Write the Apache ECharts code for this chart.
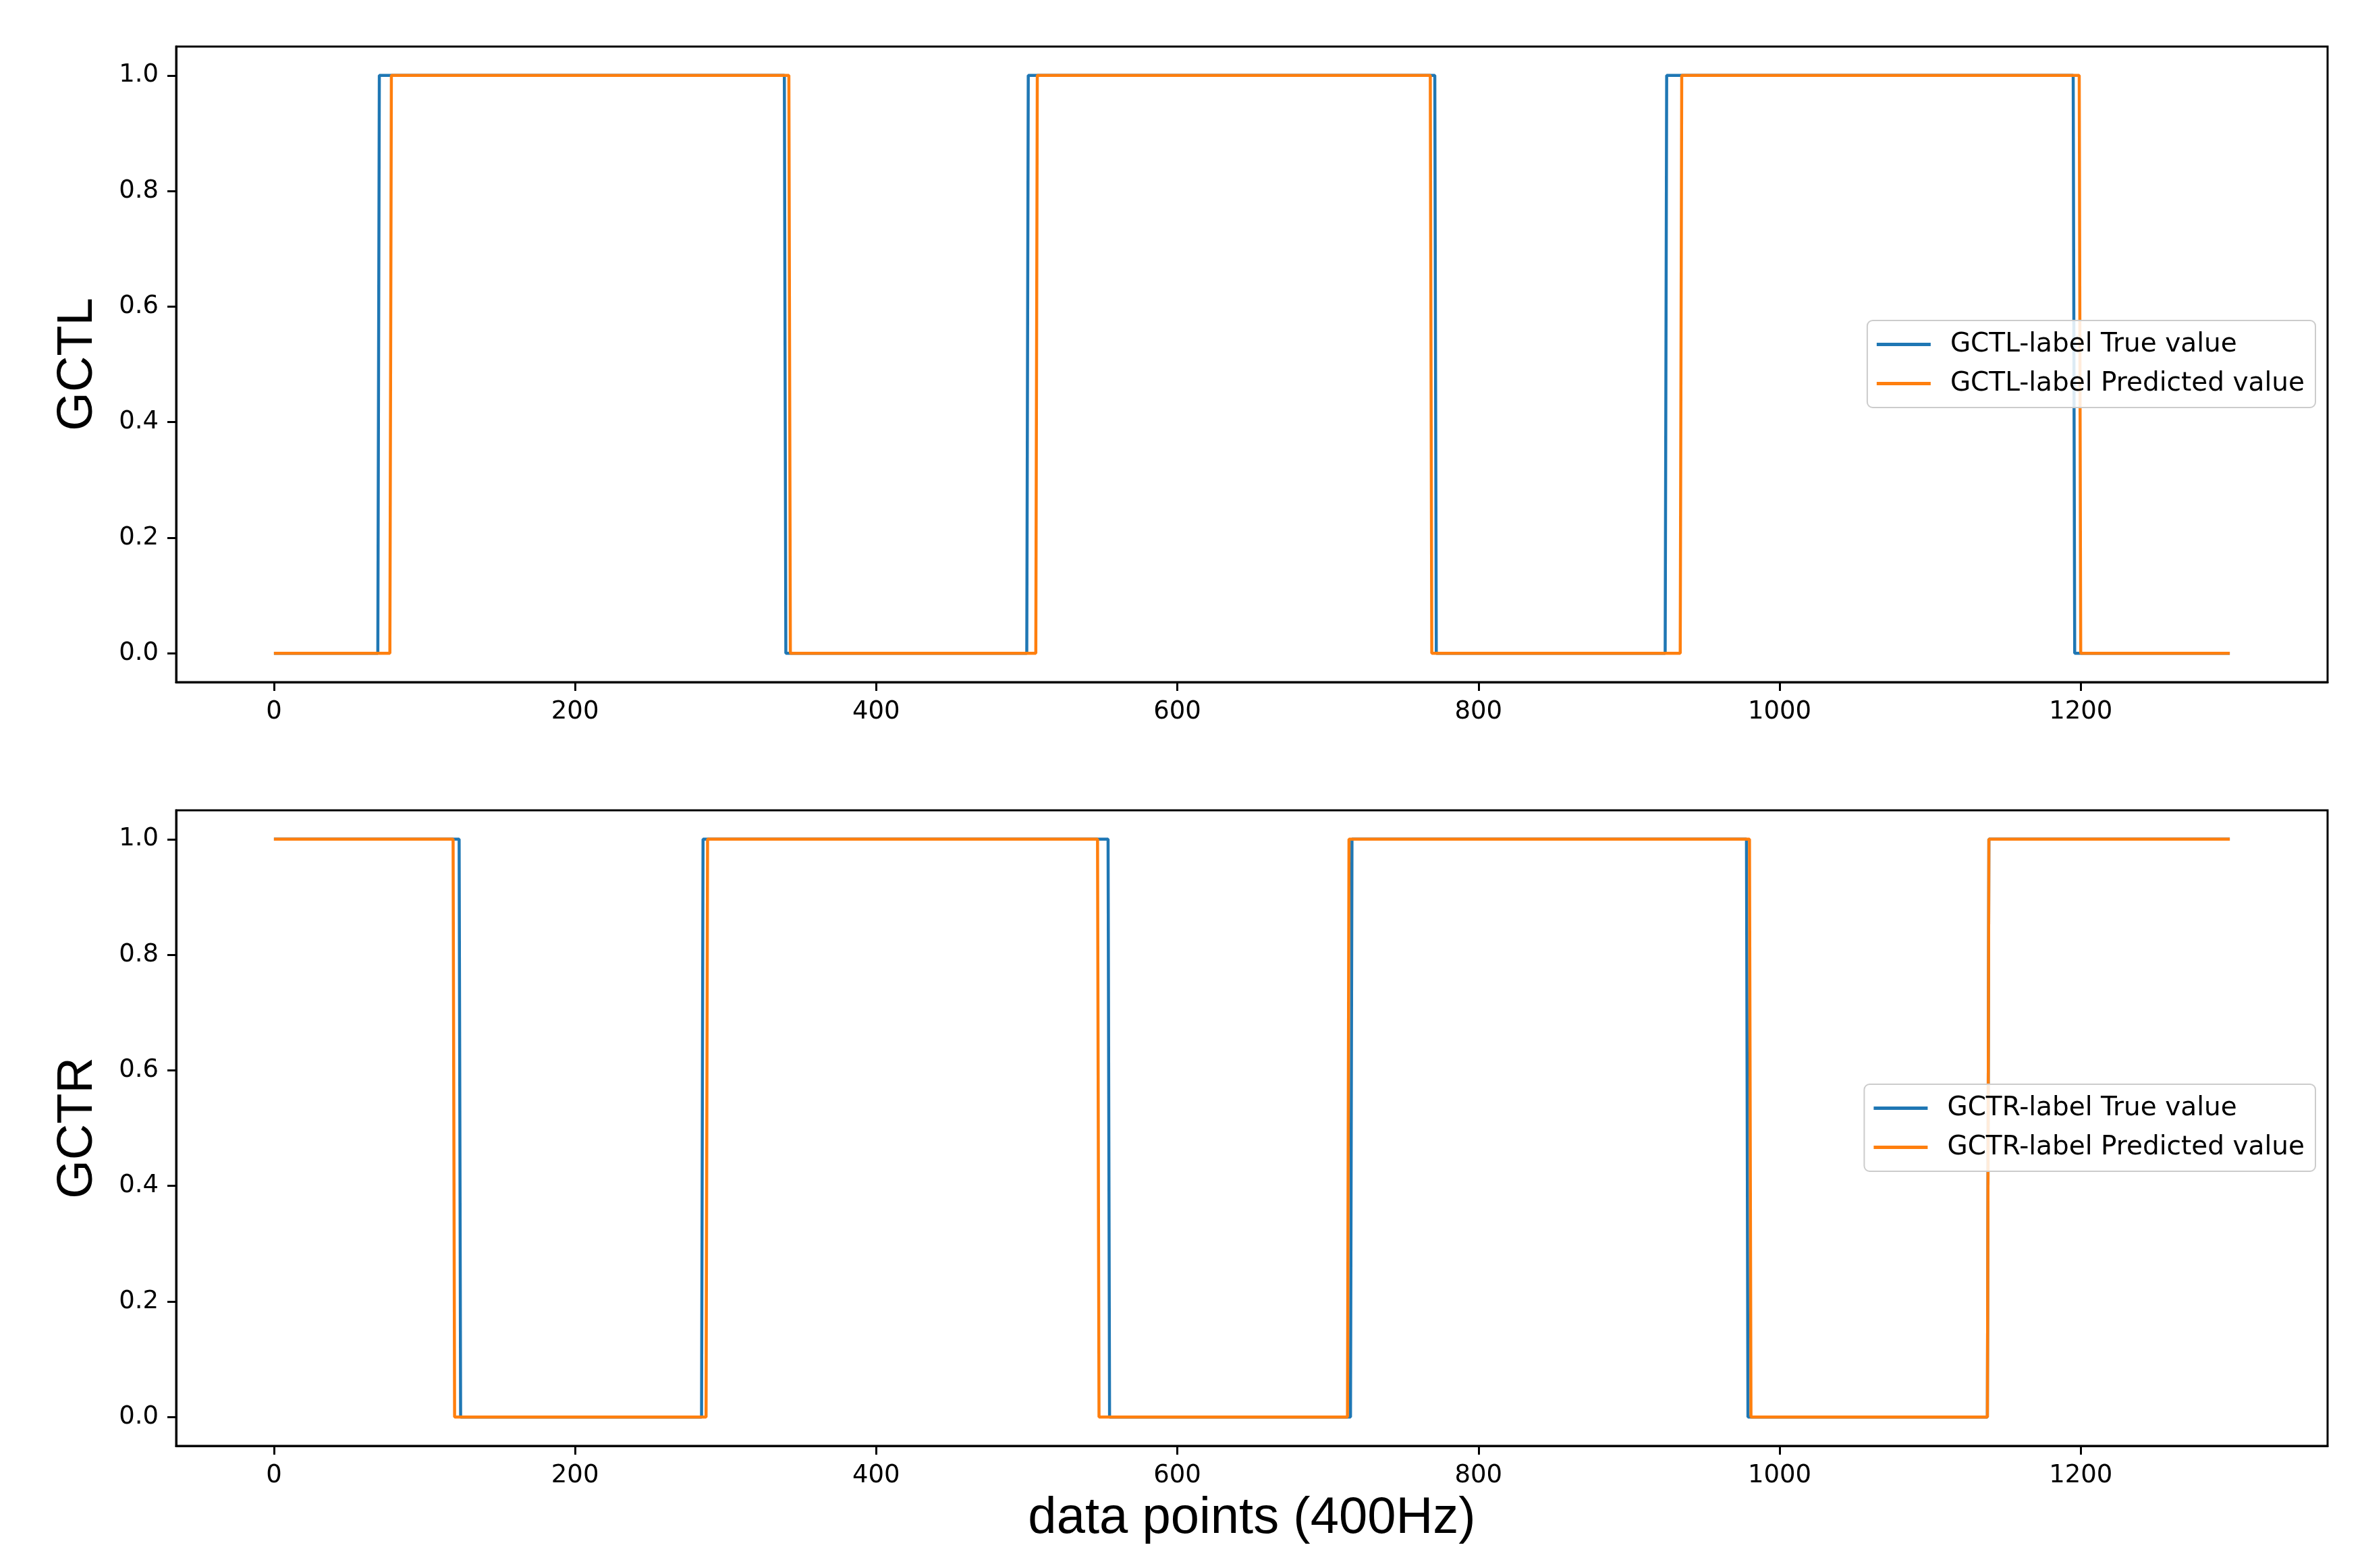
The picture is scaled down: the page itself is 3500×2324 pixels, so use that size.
<!DOCTYPE html>
<html>
<head>
<meta charset="utf-8">
<script src="https://cdn.jsdelivr.net/npm/echarts@6/dist/echarts.min.js"></script>
<style>html,body{margin:0;padding:0;background:#fff}#c{width:3500px;height:2324px}</style>
</head>
<body>
<div id="c"></div>
<script>
// Step-signal breakpoints: [data point index, value]
var gctlTrue = [[0,0],[69,0],[70,1],[339,1],[340,0],[500,0],[501,1],[771,1],[772,0],[924,0],[925,1],[1195,1],[1196,0],[1299,0]];
var gctlPred = [[0,0],[77,0],[78,1],[342,1],[343,0],[506,0],[507,1],[768,1],[769,0],[934,0],[935,1],[1199,1],[1200,0],[1299,0]];
var gctrTrue = [[0,1],[123,1],[124,0],[284,0],[285,1],[554,1],[555,0],[715,0],[716,1],[978,1],[979,0],[1138,0],[1139,1],[1299,1]];
var gctrPred = [[0,1],[119,1],[120,0],[287,0],[288,1],[547,1],[548,0],[713,0],[714,1],[980,1],[981,0],[1138,0],[1139,1],[1299,1]];
var xTicks = [0,200,400,600,800,1000,1200];
var yTicks = [0,0.2,0.4,0.6,0.8,1.0];
var names1 = ['GCTL-label True value','GCTL-label Predicted value'];
var names2 = ['GCTR-label True value','GCTR-label Predicted value'];

var BLUE = '#1f77b4', ORANGE = '#ff7f0e';
var tickFont = {fontSize:37, color:'#000', fontFamily:'DejaVu Sans'};

function xAx(idx, name){
  var a = {
    type:'value', gridIndex:idx, min:-64.95, max:1363.95,
    axisLine:{show:true, onZero:false, lineStyle:{color:'#000', width:3}},
    axisTick:{show:true, length:13, lineStyle:{color:'#000', width:3}, customValues:xTicks},
    axisLabel:Object.assign({margin:26, customValues:xTicks, formatter:function(v){return String(v);}}, tickFont),
    splitLine:{show:false}
  };
  if (name){
    a.name = name; a.nameLocation='middle'; a.nameGap=70;
    a.nameTextStyle={fontSize:76, color:'#000', fontFamily:'Liberation Sans'};
  }
  return a;
}
function yAx(idx, name){
  return {
    type:'value', gridIndex:idx, min:-0.05, max:1.05,
    name:name, nameLocation:'middle', nameRotate:90, nameGap:108,
    nameTextStyle:{fontSize:74, color:'#000', fontFamily:'Liberation Sans'},
    axisLine:{show:true, onZero:false, lineStyle:{color:'#000', width:3}},
    axisTick:{show:true, length:13, lineStyle:{color:'#000', width:3}, customValues:yTicks},
    axisLabel:Object.assign({margin:26, customValues:yTicks, formatter:function(v){return v.toFixed(1);}}, tickFont),
    splitLine:{show:false}
  };
}
function leg(names, top){
  return {
    data:names, orient:'vertical', right:69, top:top,
    icon:'rect', itemWidth:80, itemHeight:5, itemGap:19,
    padding:[16,16,16,14],
    backgroundColor:'rgba(255,255,255,0.85)', borderColor:'#cccccc', borderWidth:2, borderRadius:8,
    textStyle:{fontSize:39, color:'#000', fontFamily:'DejaVu Sans', padding:[0,0,0,24]},
    selectedMode:false
  };
}
function ser(name, data, color, xi, yi){
  return {type:'line', name:name, data:data, xAxisIndex:xi, yAxisIndex:yi,
    showSymbol:false, symbol:'none', lineStyle:{color:color, width:4.5}, itemStyle:{color:color},
    animation:false, silent:true};
}

var chart = echarts.init(document.getElementById('c'));
chart.setOption({
  backgroundColor:'#fff',
  animation:false,
  grid:[
    {left:261, right:51, top:69, height:942, show:true, borderColor:'#000', borderWidth:3, backgroundColor:'transparent'},
    {left:261, right:51, top:1201, height:942, show:true, borderColor:'#000', borderWidth:3, backgroundColor:'transparent'}
  ],
  xAxis:[xAx(0), xAx(1, 'data points (400Hz)')],
  yAxis:[yAx(0,'GCTL'), yAx(1,'GCTR')],
  legend:[leg(names1, 475), leg(names2, 1607)],
  series:[
    ser(names1[0], gctlTrue, BLUE, 0, 0),
    ser(names1[1], gctlPred, ORANGE, 0, 0),
    ser(names2[0], gctrTrue, BLUE, 1, 1),
    ser(names2[1], gctrPred, ORANGE, 1, 1)
  ]
});
</script>
</body>
</html>
